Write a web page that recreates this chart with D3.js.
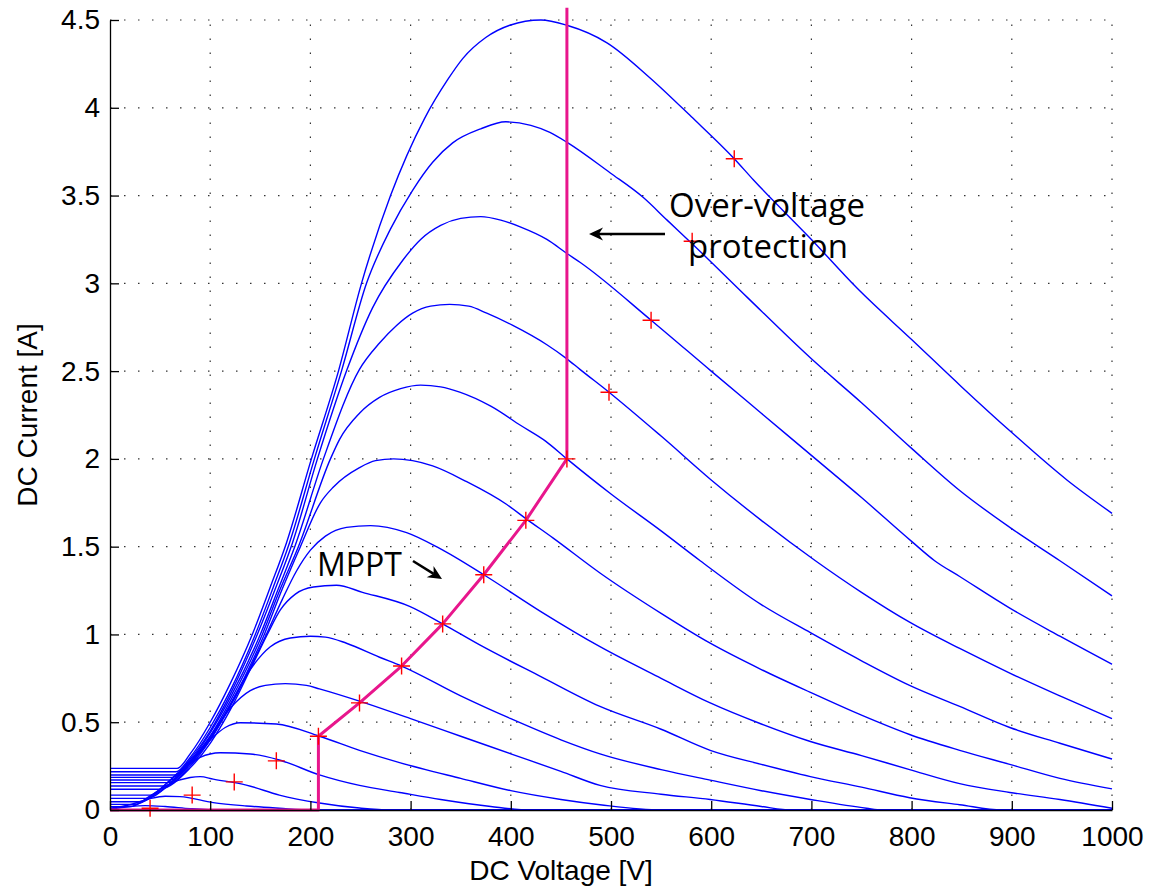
<!DOCTYPE html>
<html>
<head>
<meta charset="utf-8">
<script src="https://cdn.jsdelivr.net/npm/d3@7"></script>
<style>
  body { margin: 0; background: #fff; }
  svg { display: block; }
</style>
</head>
<body>
<div id="scene"></div>
<script>
// tick values
var xTicks = [0, 100, 200, 300, 400, 500, 600, 700, 800, 900, 1000];
var yTicks = [0, 0.5, 1, 1.5, 2, 2.5, 3, 3.5, 4, 4.5];

// I-V curves, [voltage, current]
var curve1 = [[0,0.237],[67,0.237],[80,0.32],[100,0.50],[120,0.72],[142,1.0],[160,1.27],[176,1.52],[201,2.0],[228,2.5],[251,3.0],[280,3.5],[314,3.94],[337,4.16],[352,4.28],[375,4.40],[399,4.47],[430,4.50],[456,4.47],[496,4.37],[539,4.17],[580,3.95],[623,3.71],[642,3.59],[700,3.25],[746,2.97],[800,2.68],[850,2.41],[900,2.15],[955,1.88],[1000,1.69]];
var curve2 = [[0,0.218],[66,0.218],[80,0.30],[100,0.47],[120,0.68],[145,1.0],[163,1.27],[179,1.52],[204,2.0],[231,2.5],[256,3.0],[280,3.31],[302,3.53],[322,3.69],[342,3.80],[370,3.88],[395,3.92],[420,3.90],[439,3.86],[457,3.80],[499,3.63],[532,3.49],[556,3.36],[582,3.22],[636,2.92],[700,2.57],[750,2.32],[800,2.06],[848,1.82],[898,1.61],[948,1.42],[1000,1.22]];
var curve3 = [[0,0.199],[64,0.199],[80,0.29],[100,0.45],[120,0.66],[147,1.0],[165,1.26],[182,1.52],[207,2.0],[236,2.5],[262,2.86],[292,3.13],[310,3.25],[330,3.33],[350,3.37],[370,3.38],[390,3.36],[410,3.32],[436,3.25],[456,3.17],[469,3.12],[540,2.79],[600,2.50],[650,2.26],[700,2.02],[750,1.78],[800,1.53],[823,1.42],[848,1.33],[898,1.15],[948,0.99],[1000,0.83]];
var curve4 = [[0,0.186],[62,0.186],[80,0.28],[100,0.44],[120,0.64],[150,1.0],[168,1.26],[185,1.51],[213,2.0],[249,2.51],[269,2.66],[286,2.76],[302,2.83],[320,2.87],[339,2.88],[358,2.87],[376,2.83],[402,2.76],[436,2.65],[456,2.57],[469,2.51],[498,2.38],[550,2.13],[600,1.88],[650,1.65],[704,1.42],[750,1.24],[798,1.07],[848,0.92],[898,0.78],[948,0.65],[1000,0.52]];
var curve5 = [[0,0.171],[60,0.171],[80,0.27],[100,0.42],[120,0.62],[152,1.0],[170,1.26],[188,1.5],[220,2.0],[229,2.11],[249,2.26],[269,2.35],[290,2.40],[310,2.42],[330,2.41],[349,2.38],[380,2.30],[410,2.19],[435,2.10],[456,2.0],[500,1.80],[550,1.59],[589,1.42],[650,1.17],[699,1.01],[750,0.85],[798,0.71],[848,0.59],[898,0.47],[948,0.38],[1000,0.29]];
var curve6 = [[0,0.156],[57,0.156],[80,0.26],[100,0.41],[120,0.60],[154,1.0],[172,1.26],[190,1.5],[210,1.75],[223,1.84],[249,1.95],[265,1.99],[283,2.0],[302,1.99],[322,1.96],[356,1.87],[396,1.74],[415,1.66],[442,1.55],[489,1.35],[550,1.12],[599,0.95],[650,0.80],[699,0.67],[750,0.54],[798,0.43],[848,0.34],[898,0.26],[948,0.18],[1000,0.12]];
var curve7 = [[0,0.137],[54,0.137],[80,0.25],[100,0.40],[120,0.59],[156,1.0],[172,1.2],[186,1.36],[200,1.48],[215,1.56],[236,1.61],[260,1.62],[296,1.58],[329,1.49],[373,1.34],[430,1.13],[489,0.93],[550,0.75],[599,0.61],[650,0.49],[699,0.39],[750,0.31],[798,0.23],[848,0.15],[898,0.10],[948,0.06],[1000,0.01]];
var curve8 = [[0,0.118],[49,0.118],[80,0.24],[100,0.38],[120,0.57],[140,0.80],[157,1.0],[170,1.14],[185,1.23],[203,1.27],[226,1.28],[252,1.24],[299,1.16],[332,1.06],[369,0.94],[430,0.76],[489,0.59],[550,0.46],[599,0.34],[650,0.26],[699,0.19],[750,0.13],[798,0.07],[848,0.03],[890,0],[1000,0]];
var curve9 = [[0,0.085],[41,0.085],[60,0.15],[80,0.27],[100,0.40],[120,0.60],[140,0.80],[160,0.93],[180,0.98],[200,0.99],[215,0.985],[236,0.95],[269,0.87],[291,0.82],[350,0.65],[400,0.52],[450,0.40],[489,0.32],[550,0.23],[599,0.17],[650,0.11],[699,0.06],[755,0.01],[770,0],[1000,0]];
var curve10 = [[0,0.066],[36,0.066],[60,0.15],[80,0.27],[100,0.42],[120,0.58],[140,0.68],[155,0.71],[175,0.72],[196,0.71],[209,0.69],[249,0.62],[300,0.52],[350,0.42],[400,0.32],[450,0.22],[489,0.14],[550,0.09],[599,0.06],[650,0.02],[680,0],[1000,0]];
var curve11 = [[0,0.047],[30,0.047],[60,0.17],[80,0.28],[100,0.40],[115,0.47],[130,0.497],[166,0.49],[209,0.42],[249,0.34],[289,0.27],[350,0.18],[400,0.11],[450,0.06],[489,0.03],[550,0],[1000,0]];
var curve12 = [[0,0.032],[25,0.032],[50,0.12],[70,0.22],[90,0.30],[110,0.326],[140,0.319],[169,0.285],[209,0.20],[249,0.14],[289,0.10],[330,0.06],[380,0.02],[420,0],[1000,0]];
var curve13 = [[0,0.019],[20,0.019],[40,0.08],[60,0.15],[80,0.185],[90,0.19],[103,0.176],[136,0.142],[169,0.085],[209,0.04],[249,0.011],[280,0],[1000,0]];
var curve14 = [[0,0.010],[20,0.03],[40,0.065],[55,0.078],[70,0.076],[103,0.042],[136,0.023],[169,0.01],[200,0],[1000,0]];
var curve15 = [[0,0.005],[20,0.02],[35,0.025],[55,0.02],[80,0.008],[110,0],[1000,0]];
var curves = [curve1, curve2, curve3, curve4, curve5, curve6, curve7, curve8,
  curve9, curve10, curve11, curve12, curve13, curve14, curve15];

// maximum power points (red +)
var mpptV = [40, 82, 124, 166, 208, 249, 291, 332, 373, 415, 456, 498, 540, 581, 623];
var mpptI = [0.01, 0.085, 0.16, 0.28, 0.42, 0.61, 0.82, 1.06, 1.34, 1.65, 2.0, 2.38, 2.79, 3.24, 3.71];

// controller trajectory (magenta)
var ctrlV = [0, 208, 208, 249, 291, 332, 373, 415, 456, 456];
var ctrlI = [0, 0, 0.42, 0.61, 0.82, 1.06, 1.34, 1.65, 2.0, 4.57];

var ctx = {
  w: 1157,
  h: 896,
  left: 110,
  right: 1112,
  top: 20,
  bottom: 810
};

var svgEl = d3.select("#scene").append("svg")
  .attr("width", ctx.w)
  .attr("height", ctx.h);

var x = d3.scaleLinear().domain([0, 1000]).range([ctx.left, ctx.right]);
var y = d3.scaleLinear().domain([0, 4.5]).range([ctx.bottom, ctx.top]);

// dotted grid
svgEl.append("g").selectAll("line")
  .data(xTicks.slice(1))
  .enter().append("line")
  .attr("x1", function (d) { return x(d); })
  .attr("x2", function (d) { return x(d); })
  .attr("y1", ctx.bottom)
  .attr("y2", ctx.top)
  .attr("stroke", "#333")
  .attr("stroke-width", 1.2)
  .attr("stroke-dasharray", "1.5,12.5");

svgEl.append("g").selectAll("line")
  .data(yTicks.slice(1))
  .enter().append("line")
  .attr("x1", ctx.left)
  .attr("x2", ctx.right)
  .attr("y1", function (d) { return y(d); })
  .attr("y2", function (d) { return y(d); })
  .attr("stroke", "#333")
  .attr("stroke-width", 1.2)
  .attr("stroke-dasharray", "1.5,12.5");

// curves
var line = d3.line()
  .x(function (d) { return x(d[0]); })
  .y(function (d) { return y(d[1]); })
  .curve(d3.curveMonotoneX);

svgEl.append("g").selectAll("path")
  .data(curves)
  .enter().append("path")
  .attr("d", line)
  .attr("fill", "none")
  .attr("stroke", "#0000ff")
  .attr("stroke-width", 1.4);

// controller path
var ctrl = ctrlV.map(function (v, i) { return [v, ctrlI[i]]; });
svgEl.append("path")
  .attr("d", d3.line()
    .x(function (d) { return x(d[0]); })
    .y(function (d) { return y(d[1]); })(ctrl))
  .attr("fill", "none")
  .attr("stroke", "#e8168c")
  .attr("stroke-width", 3)
  .attr("stroke-linejoin", "round");

// red + markers
var mppt = mpptV.map(function (v, i) { return [v, mpptI[i]]; });
svgEl.append("g").selectAll("path")
  .data(mppt)
  .enter().append("path")
  .attr("d", function (d) {
    var cx = x(d[0]), cy = y(d[1]), s = 8.5;
    return "M" + (cx - s) + "," + cy + "H" + (cx + s) + "M" + cx + "," + (cy - s) + "V" + (cy + s);
  })
  .attr("stroke", "#ff0000")
  .attr("stroke-width", 1.4)
  .attr("fill", "none");

// axes
var yAxis = d3.axisLeft(y)
  .tickValues(yTicks)
  .tickSizeInner(-9)
  .tickSizeOuter(0)
  .tickPadding(10)
  .tickFormat(function (d) { return String(d); });

var xAxis = d3.axisBottom(x)
  .tickValues(xTicks)
  .tickSizeInner(-9)
  .tickSizeOuter(0)
  .tickPadding(16)
  .tickFormat(function (d) { return String(d); });

var gy = svgEl.append("g")
  .attr("transform", "translate(" + ctx.left + ",0)")
  .call(yAxis);
var gx = svgEl.append("g")
  .attr("transform", "translate(0," + ctx.bottom + ")")
  .call(xAxis);

[gx, gy].forEach(function (g) {
  g.selectAll("path, line").attr("stroke", "#000").attr("stroke-width", 1.3);
  g.selectAll("text")
    .attr("fill", "#000")
    .style("font-family", "'Liberation Sans', Arial, sans-serif")
    .style("font-size", "28px");
});

// axis labels
svgEl.append("text")
  .attr("x", 561)
  .attr("y", 880)
  .attr("text-anchor", "middle")
  .style("font-family", "'Liberation Sans', Arial, sans-serif")
  .style("font-size", "28px")
  .text("DC Voltage [V]");

svgEl.append("text")
  .attr("transform", "translate(37,415) rotate(-90)")
  .attr("text-anchor", "middle")
  .style("font-family", "'Liberation Sans', Arial, sans-serif")
  .style("font-size", "28px")
  .text("DC Current [A]");

// annotations
var annoFont = "'Open Sans', 'Noto Sans', sans-serif";
svgEl.append("text")
  .attr("x", 317)
  .attr("y", 576)
  .style("font-family", annoFont)
  .style("font-size", "32px")
  .text("MPPT");

svgEl.append("text")
  .attr("x", 767)
  .attr("y", 217)
  .attr("text-anchor", "middle")
  .style("font-family", annoFont)
  .style("font-size", "33px")
  .text("Over-voltage");

svgEl.append("text")
  .attr("x", 768)
  .attr("y", 258)
  .attr("text-anchor", "middle")
  .style("font-family", annoFont)
  .style("font-size", "33px")
  .text("protection");

var arrow = function (x1, y1, x2, y2) {
  var a = Math.atan2(y2 - y1, x2 - x1);
  var len = 14, half = 6.5;
  var bx = x2 - len * Math.cos(a), by = y2 - len * Math.sin(a);
  var nx = -Math.sin(a), ny = Math.cos(a);
  var mx = x2 - 0.7 * len * Math.cos(a), my = y2 - 0.7 * len * Math.sin(a);
  svgEl.append("line")
    .attr("x1", x1).attr("y1", y1)
    .attr("x2", mx).attr("y2", my)
    .attr("stroke", "#000")
    .attr("stroke-width", 2.5);
  svgEl.append("path")
    .attr("d", "M" + x2 + "," + y2 +
      "L" + (bx + nx * half) + "," + (by + ny * half) +
      "L" + mx + "," + my +
      "L" + (bx - nx * half) + "," + (by - ny * half) + "Z")
    .attr("fill", "#000");
};

arrow(413, 561, 442, 579);
arrow(665, 234, 589, 234);
</script>
</body>
</html>
